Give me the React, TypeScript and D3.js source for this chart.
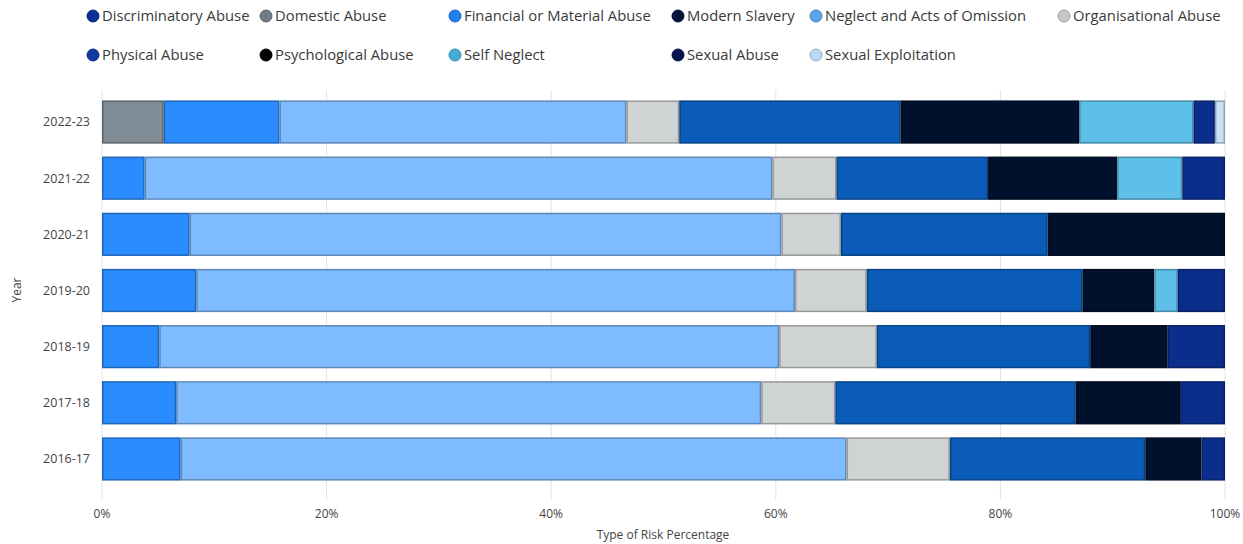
import React, { useEffect, useRef } from "react";
import * as d3 from "d3";

const years = ["2022-23", "2021-22", "2020-21", "2019-20", "2018-19", "2017-18", "2016-17"];
const seriesNames = [
  "Discriminatory Abuse",
  "Domestic Abuse",
  "Financial or Material Abuse",
  "Modern Slavery",
  "Neglect and Acts of Omission",
  "Organisational Abuse",
  "Physical Abuse",
  "Psychological Abuse",
  "Self Neglect",
  "Sexual Abuse",
  "Sexual Exploitation",
];
// values per series, in order of years
const discriminatory = [0, 0, 0, 0, 0, 0, 0];
const domestic = [5.5, 0, 0, 0, 0, 0, 0];
const financial = [10.3, 3.8, 7.8, 8.4, 5.1, 6.6, 7.0];
const modernSlavery = [0, 0, 0, 0, 0, 0, 0];
const neglect = [30.9, 55.9, 52.7, 53.3, 55.2, 52.1, 59.3];
const organisational = [4.7, 5.7, 5.3, 6.4, 8.7, 6.6, 9.2];
const physical = [19.7, 13.5, 18.4, 19.2, 19.0, 21.4, 17.4];
const psychological = [15.9, 11.5, 15.8, 6.4, 6.9, 9.3, 5.0];
const selfNeglect = [10.2, 5.8, 0, 2.1, 0, 0, 0];
const sexualAbuse = [1.9, 3.8, 0, 4.2, 5.1, 4.0, 2.1];
const sexualExploitation = [0.9, 0, 0, 0, 0, 0, 0];
const seriesValues = [
  discriminatory, domestic, financial, modernSlavery, neglect, organisational,
  physical, psychological, selfNeglect, sexualAbuse, sexualExploitation,
];
const xTicks = [0, 0.2, 0.4, 0.6, 0.8, 1];

const barColors = [
  "#0a3296", "#7f8b95", "#2b8cff", "#0a1450", "#7fbcff", "#d0d3d3",
  "#0a5cb8", "#00112e", "#5ec0e8", "#0b2d8c", "#c6e0f8",
];
const legendColors = [
  "#0a2f96", "#6f7b85", "#1f7ff0", "#06103f", "#5aa4ec", "#c4c8c8",
  "#1238a0", "#000000", "#45acd8", "#061550", "#bcd8f4",
];

export default function App() {
  const ref = useRef<SVGSVGElement>(null);

  useEffect(() => {
    const svg = d3.select(ref.current);
    svg.selectAll("*").remove();
    const W = 1243, H = 544;
    const m = { left: 102, right: 18, top: 90, bottom: 52 };
    const font = "'Open Sans', 'Noto Sans', sans-serif";

    const rows = years.map((y, i) => {
      const r: any = { year: y };
      seriesNames.forEach((s, k) => (r[s] = seriesValues[k][i]));
      return r;
    });
    const stacked = d3.stack().keys(seriesNames).offset(d3.stackOffsetExpand)(rows);

    const x = d3.scaleLinear().domain([0, 1]).range([m.left, W - m.right]);
    const y = d3.scaleBand().domain(years).range([m.top + 2, H - m.bottom - 3]).paddingInner(0.23).paddingOuter(0.15);

    // gridlines
    svg.append("g").selectAll("line").data(xTicks).join("line")
      .attr("x1", (d) => x(d)).attr("x2", (d) => x(d))
      .attr("y1", m.top).attr("y2", H - m.bottom + 8)
      .attr("stroke", "#e4e4e4").attr("stroke-width", 1);

    // bars
    stacked.forEach((layer, k) => {
      const c = barColors[k];
      const stroke = d3.color(c)!.darker(0.9).formatHex();
      svg.append("g").selectAll("rect").data(layer.filter((d) => d[1] - d[0] > 0)).join("rect")
        .attr("x", (d) => x(d[0]) + 0.75)
        .attr("width", (d) => Math.max(0, x(d[1]) - x(d[0]) - 1.5))
        .attr("y", (d: any) => y(d.data.year)! + 0.75)
        .attr("height", y.bandwidth() - 1.5)
        .attr("fill", c)
        .attr("stroke", stroke)
        .attr("stroke-width", 1.5);
    });

    // y labels
    svg.append("g").selectAll("text").data(years).join("text")
      .attr("x", m.left - 12).attr("y", (d) => y(d)! + y.bandwidth() / 2)
      .attr("dy", "0.35em").attr("text-anchor", "end")
      .attr("font-family", font).attr("font-size", 12.5).attr("fill", "#444")
      .text((d) => d);

    // x labels
    svg.append("g").selectAll("text").data(xTicks).join("text")
      .attr("x", (d) => x(d)).attr("y", 518)
      .attr("text-anchor", "middle")
      .attr("font-family", font).attr("font-size", 12).attr("fill", "#444")
      .text((d) => d3.format(".0%")(d));

    svg.append("text").attr("x", 663).attr("y", 539).attr("text-anchor", "middle")
      .attr("font-family", font).attr("font-size", 12).attr("fill", "#444")
      .text("Type of Risk Percentage");

    svg.append("text").attr("transform", "translate(21,290) rotate(-90)")
      .attr("text-anchor", "middle")
      .attr("font-family", font).attr("font-size", 12).attr("fill", "#444")
      .text("Year");

    // legend
    const colX = [93, 266, 455, 678, 816, 1064];
    const items = seriesNames.map((s, k) => ({
      s, k,
      cx: colX[k < 6 ? k : k - 6],
      cy: k < 6 ? 16 : 55,
    }));
    const lg = svg.append("g").selectAll("g").data(items).join("g")
      .attr("transform", (d) => `translate(${d.cx},${d.cy})`);
    lg.append("circle").attr("r", 6).attr("fill", (d) => legendColors[d.k])
      .attr("stroke", (d) => d3.color(legendColors[d.k])!.darker(0.6).formatHex()).attr("stroke-width", 1);
    lg.append("text").attr("x", 9).attr("dy", "0.35em")
      .attr("font-family", font).attr("font-size", 14.8).attr("fill", "#3a3a3a")
      .text((d) => d.s);
  }, []);

  return (
    <svg
      ref={ref}
      width={1243}
      height={544}
      style={{ position: "absolute", left: 0, top: 0, background: "#fff" }}
    />
  );
}
